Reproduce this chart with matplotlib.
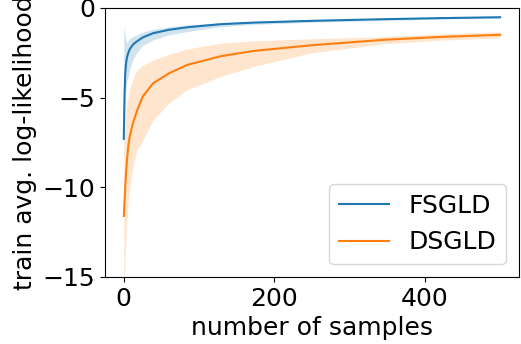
import numpy as np
import matplotlib.pyplot as plt

# ================================ Dados =========================================

samples = [0, 1, 2, 3, 4, 6, 8, 12, 17, 25, 39, 60, 84, 128, 172, 250, 345, 420, 500]

fsgld_mean = [-7.3, -4.8, -3.6, -3.1, -2.8, -2.5, -2.3, -2.05, -1.88, -1.65, -1.41,
              -1.22, -1.08, -0.91, -0.82, -0.72, -0.63, -0.57, -0.52]
fsgld_upper = [-1.0, -1.3, -1.6, -1.85, -1.95, -1.8, -1.7, -1.6, -1.5, -1.35, -1.19,
               -1.05, -0.95, -0.82, -0.75, -0.66, -0.58, -0.53, -0.48]
fsgld_lower = [-7.6, -6.5, -5.0, -4.4, -4.1, -3.8, -3.4, -2.9, -2.5, -2.1, -1.78,
               -1.5, -1.32, -1.05, -0.92, -0.8, -0.69, -0.62, -0.57]

dsgld_mean = [-11.6, -10.8, -9.9, -9.2, -8.6, -7.7, -7.15, -6.45, -5.8, -4.95, -4.2,
              -3.65, -3.18, -2.7, -2.4, -2.08, -1.78, -1.62, -1.5]
dsgld_upper = [-8.0, -7.2, -6.5, -5.9, -5.4, -4.9, -4.5, -4.0, -3.5, -3.2, -2.9,
               -2.6, -2.29, -1.97, -1.84, -1.72, -1.6, -1.45, -1.33]
dsgld_lower = [-16.0, -15.0, -13.8, -12.8, -12.0, -10.8, -10.0, -8.9, -8.0, -7.4, -6.25,
               -5.3, -4.57, -3.83, -3.27, -2.5, -2.0, -1.8, -1.67]

# ================================ Plot =========================================

plt.rcParams['font.size'] = 18

fig = plt.figure(figsize=(5.21, 3.44), dpi=100)
ax = fig.add_axes([0.2015, 0.195, 0.7945, 0.782])

ax.plot(samples, fsgld_mean, color='tab:blue', label='FSGLD')
ax.fill_between(samples, fsgld_lower, fsgld_upper, color='tab:blue', alpha=0.2, linewidth=0)

ax.plot(samples, dsgld_mean, color='tab:orange', label='DSGLD')
ax.fill_between(samples, dsgld_lower, dsgld_upper, color='tab:orange', alpha=0.2, linewidth=0)

ax.set_ylim(-15, 0)
ax.set_yticks([0, -5, -10, -15])
ax.set_xticks([0, 200, 400])
ax.set_xlabel('number of samples')
ax.set_ylabel('train avg. log-likelihood')
ax.legend(loc='lower right')

plt.savefig('out.png', dpi=100)
